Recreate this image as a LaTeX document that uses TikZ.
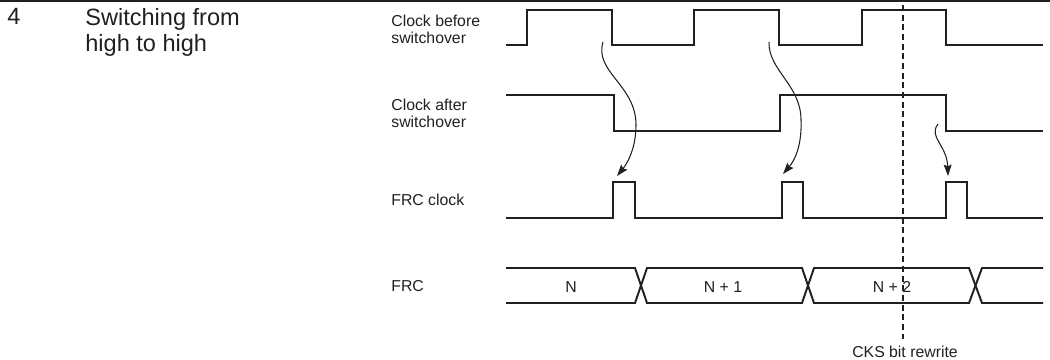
\documentclass[tikz,border=0pt]{standalone}
\usepackage{fontspec}
\setmainfont{Liberation Sans}
\usetikzlibrary{arrows.meta}
\definecolor{waveink}{RGB}{35,31,32}

\begin{document}
\begin{tikzpicture}[
        x=0.02cm, y=-0.02cm,
        % Style pour les signaux
        wave/.style={
            draw=waveink,
            line width=1.1pt,
            line join=miter
        },
        % Style pour les flèches de cause
        causeArrow/.style={
            draw=waveink,
            line width=0.6pt,
            -{Stealth[length=6.5pt, width=4.5pt, inset=1pt]}
        },
        % Style pour la ligne de réécriture
        rewriteLine/.style={
            draw=waveink,
            line width=0.6pt,
            dash pattern=on 3.5pt off 2pt
        },
        % Styles pour les textes
        sigLabel/.style={
            anchor=north west,
            inner sep=0pt,
            align=left,
            text=waveink,
            font=\fontsize{9}{9.5}\selectfont
        },
        busLabel/.style={
            anchor=base,
            text=waveink,
            font=\fontsize{9}{9.5}\selectfont
        },
        titleText/.style={
            anchor=north west,
            inner sep=0pt,
            align=left,
            text=waveink,
            font=\fontsize{13.4}{14.7}\selectfont
        }
    ]

    \useasboundingbox (0,0) rectangle (1050,359);

    % Filet du haut
    \draw[waveink, line width=0.9pt] (0,0.8) -- (1050,0.8);

    % Titre
    \node[titleText] (num) at (7,8) {4};
    \node[titleText] (title) at (85,8) {Switching from\\high to high};

    % Noms des signaux
    \node[sigLabel] (lblBefore) at (391,14.5) {Clock before\\switchover};
    \node[sigLabel] (lblAfter) at (391,98.5) {Clock after\\switchover};
    \node[sigLabel] (lblFrcClk) at (391,193.5) {FRC clock};
    \node[sigLabel] (lblFrc) at (391,280) {FRC};

    % Horloge avant la commutation
    \draw[wave] (506,45) -| (527,10) -| (612,45) -| (694,10) -| (779,45)
        -| (862,10) -| (946,45) -- (1043,45);

    % Horloge après la commutation
    \draw[wave] (506,95) -| (614,131) -| (780,95) -| (946,131) -- (1043,131);

    % Horloge du FRC
    \draw[wave] (506,218) -| (613,182) -| (635,218) -| (782,182) -| (803,218)
        -| (946,182) -| (967,218) -- (1043,218);

    % Compteur FRC
    \draw[wave] (506,268) -- (635,268) -- (647,303) -- (802,303) -- (814,268)
        -- (969,268) -- (982,303) -- (1043,303);
    \draw[wave] (506,303) -- (635,303) -- (647,268) -- (802,268) -- (814,303)
        -- (969,303) -- (982,268) -- (1043,268);
    \node[busLabel] (valN) at (571,292) {N};
    \node[busLabel] (valN1) at (723,292) {N + 1};
    \node[busLabel] (valN2) at (892,292) {N + 2};

    % Réécriture du bit CKS
    \node[busLabel] (lblCks) at (905,357) {CKS bit rewrite};
    \coordinate (cksTop) at (903,5);
    \draw[rewriteLine] (cksTop) -- (cksTop |- lblCks.north);

    % Flèches vers les impulsions
    \coordinate (a1s) at (603,42);
    \coordinate (a1e) at (617,176);
    \draw[causeArrow] (a1s) .. controls (594,72) and (636,85) .. (636,125)
        .. controls (636,150) and (626,165) .. (a1e);

    \coordinate (a2s) at (769,42);
    \coordinate (a2e) at (783,174);
    \draw[causeArrow] (a2s) .. controls (768,70) and (801,85) .. (801,120)
        .. controls (802,145) and (795,160) .. (a2e);

    \coordinate (a3s) at (938,124);
    \coordinate (a3e) at (948,176);
    \draw[causeArrow] (a3s) .. controls (928,137) and (947,145) .. (a3e);

\end{tikzpicture}
\end{document}
